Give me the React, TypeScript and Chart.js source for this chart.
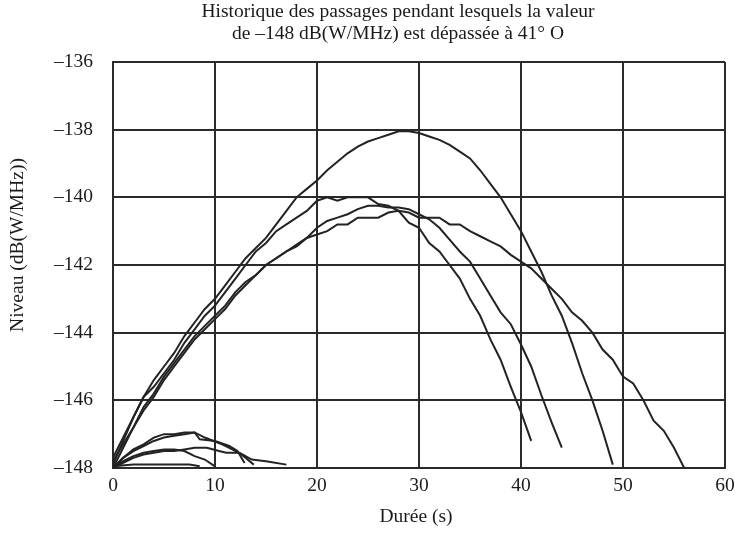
import React, { useEffect, useRef } from "react";
import { Chart, registerables } from "chart.js";

Chart.register(...registerables);

const titleLines = [
  "Historique des passages pendant lesquels la valeur",
  "de \u2013148 dB(W/MHz) est dépassée à 41° O",
];
const xAxisTitle = "Durée (s)";
const yAxisTitle = "Niveau (dB(W/MHz))";

const xTicks = [0, 10, 20, 30, 40, 50, 60];
const yTicks = [-136, -138, -140, -142, -144, -146, -148];

// Durations (s)
const T = [
  0, 1, 2, 3, 4, 5, 6, 7, 8, 9, 10, 11, 12, 13, 14, 15, 16, 17, 18, 19, 20,
  21, 22, 23, 24, 25, 26, 27, 28, 29, 30, 31, 32, 33, 34, 35, 36, 37, 38, 39,
  40, 41, 42, 43, 44, 45, 46, 47, 48, 49, 50, 51, 52, 53, 54, 55, 56,
];

// Big passes
const passA = [
  -147.7, -147.1, -146.5, -145.9, -145.4, -145.0, -144.6, -144.1, -143.7,
  -143.3, -143.0, -142.6, -142.2, -141.8, -141.5, -141.2, -140.8, -140.4,
  -140.0, -139.75, -139.5, -139.2, -138.95, -138.7, -138.5, -138.35, -138.25,
  -138.15, -138.05, -138.05, -138.1, -138.2, -138.3, -138.45, -138.65,
  -138.85, -139.2, -139.6, -140.0, -140.5, -141.0, -141.6, -142.2, -142.9,
  -143.5, -144.3, -145.2, -146.0, -146.9, -147.9,
];
const passB = [
  -147.9, -147.2, -146.5, -145.9, -145.6, -145.2, -144.8, -144.3, -143.9,
  -143.5, -143.2, -142.8, -142.4, -142.0, -141.6, -141.35, -141.0, -140.8,
  -140.6, -140.4, -140.1, -140.0, -140.1, -140.0, -140.0, -140.0, -140.2,
  -140.25, -140.4, -140.75, -140.9, -141.35, -141.6, -142.0, -142.4, -143.0,
  -143.5, -144.2, -144.8, -145.6, -146.35, -147.2,
];
const passC = [
  -147.8, -147.3, -146.8, -146.2, -145.8, -145.3, -144.9, -144.5, -144.1,
  -143.8, -143.5, -143.2, -142.8, -142.5, -142.3, -142.0, -141.8, -141.6,
  -141.4, -141.2, -140.9, -140.7, -140.6, -140.5, -140.35, -140.25, -140.25,
  -140.3, -140.3, -140.35, -140.5, -140.65, -140.9, -141.25, -141.6, -141.9,
  -142.4, -142.9, -143.4, -143.75, -144.35, -145.0, -145.85, -146.65, -147.4,
];
const passD = [
  -148.0, -147.4, -146.8, -146.3, -145.9, -145.4, -145.0, -144.6, -144.2,
  -143.9, -143.6, -143.3, -142.9, -142.6, -142.3, -142.0, -141.8, -141.6,
  -141.45, -141.2, -141.1, -141.0, -140.8, -140.8, -140.6, -140.6, -140.6,
  -140.45, -140.4, -140.45, -140.6, -140.6, -140.6, -140.8, -140.8, -141.0,
  -141.15, -141.3, -141.45, -141.7, -141.9, -142.1, -142.4, -142.7, -143.0,
  -143.4, -143.65, -144.0, -144.5, -144.8, -145.3, -145.5, -146.0, -146.6,
  -146.9, -147.4, -148.0,
];

// Small passes
const s1X = [0, 1, 2, 3, 4, 5, 6, 7, 8, 8.5, 10, 11.4, 12.2, 12.9];
const s1Y = [-148, -147.7, -147.45, -147.3, -147.1, -147.0, -147.0, -146.95, -146.95, -147.15, -147.2, -147.35, -147.5, -147.85];
const s2X = [0, 1, 2, 3, 4, 5, 6, 7, 8, 9, 10.7, 11.7, 12.6, 13.8];
const s2Y = [-148, -147.7, -147.5, -147.35, -147.2, -147.1, -147.05, -147.0, -146.95, -147.1, -147.3, -147.45, -147.6, -147.9];
const s3X = [0, 1, 2, 3, 4, 5, 6, 7, 8, 9.2, 10.4, 11.1, 12.4, 13.6, 15, 17];
const s3Y = [-148, -147.85, -147.7, -147.6, -147.55, -147.5, -147.5, -147.45, -147.4, -147.4, -147.5, -147.55, -147.55, -147.75, -147.8, -147.9];
const s4X = [0, 1, 2, 3, 4, 5, 6, 7, 8, 9, 10];
const s4Y = [-148, -147.8, -147.65, -147.55, -147.5, -147.45, -147.45, -147.5, -147.65, -147.75, -147.95];
const s5X = [0, 2, 4, 6, 7.5, 8.5];
const s5Y = [-147.95, -147.9, -147.9, -147.9, -147.9, -147.95];

const LINE = "#232323";
const GRID = "#2b2b2b";
const FONT = "'Liberation Serif', 'Times New Roman', serif";
const FS = 19.5;

function pts(xs: number[], ys: number[]) {
  return ys.map((y, i) => ({ x: xs[i], y }));
}

const textPlugin = {
  id: "customText",
  afterDraw(chart: any) {
    const ctx = chart.ctx;
    ctx.save();
    ctx.fillStyle = "#1a1a1a";
    ctx.font = `${FS}px ${FONT}`;
    ctx.textAlign = "center";
    ctx.textBaseline = "middle";
    ctx.fillText(titleLines[0], 398, 12);
    ctx.fillText(titleLines[1], 398, 34);
    ctx.fillText(xAxisTitle, 416, 517);
    ctx.translate(18, 245);
    ctx.rotate(-Math.PI / 2);
    ctx.fillText(yAxisTitle, 0, 0);
    ctx.restore();
  },
};

export default function App() {
  const ref = useRef<HTMLCanvasElement>(null);
  useEffect(() => {
    if (!ref.current) return;
    const series = [
      pts(T, passA),
      pts(T, passB),
      pts(T, passC),
      pts(T, passD),
      pts(s1X, s1Y),
      pts(s2X, s2Y),
      pts(s3X, s3Y),
      pts(s4X, s4Y),
      pts(s5X, s5Y),
    ];
    const chart = new Chart(ref.current, {
      type: "line",
      data: {
        datasets: series.map((d, i) => ({
          label: "p" + i,
          data: d,
          borderColor: LINE,
          borderWidth: 2,
          pointRadius: 0,
          tension: 0,
          fill: false,
        })),
      },
      options: {
        animation: false,
        responsive: true,
        maintainAspectRatio: false,
        layout: { padding: { top: 62, right: 10, left: 0, bottom: 0 } },
        plugins: {
          legend: { display: false },
          tooltip: { enabled: false },
          title: { display: false },
        },
        scales: {
          x: {
            type: "linear",
            min: 0,
            max: 60,
            afterBuildTicks: (s: any) => {
              s.ticks = xTicks.map((v) => ({ value: v }));
            },
            afterFit: (s: any) => {
              s.height = 78;
              s.paddingLeft = 0;
              s.paddingRight = 0;
            },
            ticks: {
              color: "#1a1a1a",
              font: { family: FONT, size: FS },
              padding: 6,
              maxRotation: 0,
            },
            grid: { color: GRID, lineWidth: 2, drawTicks: false },
            border: { color: GRID, width: 2 },
          },
          y: {
            type: "linear",
            min: -148,
            max: -136,
            afterBuildTicks: (s: any) => {
              s.ticks = yTicks.map((v) => ({ value: v }));
            },
            afterFit: (s: any) => {
              s.width = 113;
              s.paddingTop = 0;
              s.paddingBottom = 0;
            },
            ticks: {
              color: "#1a1a1a",
              font: { family: FONT, size: FS },
              padding: 20,
              callback: (v: any) => "\u2013" + Math.abs(Number(v)),
            },
            grid: { color: GRID, lineWidth: 2, drawTicks: false },
            border: { color: GRID, width: 2 },
          },
        },
      },
      plugins: [textPlugin],
    });
    return () => chart.destroy();
  }, []);
  return (
    <div style={{ position: "fixed", left: 0, top: 0, width: 735, height: 546, background: "#fff" }}>
      <canvas ref={ref} />
    </div>
  );
}
